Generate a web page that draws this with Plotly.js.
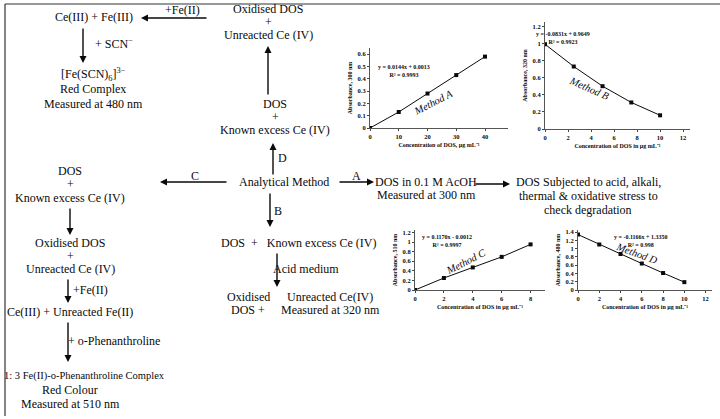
<!DOCTYPE html>
<html><head><meta charset="utf-8">
<script src="https://cdn.plot.ly/plotly-3.0.1.min.js"></script>
<style>html,body{margin:0;padding:0;background:#fff}#chart{width:720px;height:419px}</style>
</head><body><div id="chart"></div>
<script>
// ---- chart data ----
const methodA_conc = [0, 10, 20, 30, 40];
const methodA_abs  = [0.00, 0.13, 0.28, 0.43, 0.58];
const methodB_conc = [0, 2.5, 5, 7.5, 10];
const methodB_abs  = [0.99, 0.73, 0.50, 0.31, 0.16];
const methodC_conc = [0, 2, 4, 6, 8];
const methodC_abs  = [0.00, 0.25, 0.47, 0.69, 0.95];
const methodD_conc = [0, 2, 4, 6, 8, 10];
const methodD_abs  = [1.34, 1.10, 0.87, 0.64, 0.41, 0.19];

const ticksA_x = [0, 10, 20, 30, 40];
const ticksA_y = [0, 0.1, 0.2, 0.3, 0.4, 0.5, 0.6];
const ticksB_x = [0, 2, 4, 6, 8, 10, 12];
const ticksB_y = [0, 0.2, 0.4, 0.6, 0.8, 1, 1.2];
const ticksC_x = [0, 2, 4, 6, 8];
const ticksC_y = [0, 0.2, 0.4, 0.6, 0.8, 1, 1.2];
const ticksD_x = [0, 2, 4, 6, 8, 10, 12];
const ticksD_y = [0, 0.2, 0.4, 0.6, 0.8, 1, 1.2, 1.4];

const equations = ["y = 0.0144x + 0.0013<br>R² = 0.9993", "y = -0.0831x + 0.9649<br>R² = 0.9923",
                   "y = 0.1170x - 0.0012<br>R² = 0.9997", "y = -0.1166x + 1.3350<br>R² = 0.998"];
const methodNames = ["Method A", "Method B", "Method C", "Method D"];

// ---- layout helpers ----
const W = 720, H = 419;
const px = x => x / W, py = y => 1 - y / H;
const SERIF = "Liberation Serif, Times New Roman, serif";
const INK = "#0a0a0a";

function trace(xs, ys, n) {
  return {x: xs, y: ys, xaxis: 'x' + (n > 1 ? n : ''), yaxis: 'y' + (n > 1 ? n : ''),
    mode: 'lines+markers', line: {color: INK, width: 1},
    marker: {symbol: 'square', size: 4, color: INK}, showlegend: false, hoverinfo: 'skip'};
}
function axis(domain, range, ticks, title, anchor) {
  return {domain: domain, range: range, tickvals: ticks, ticktext: ticks.map(String), anchor: anchor,
    showline: true, linecolor: '#555', linewidth: 1, showgrid: false, zeroline: false,
    ticks: 'outside', ticklen: 2, tickwidth: 1, tickcolor: '#444',
    tickfont: {family: SERIF, size: 6.5, color: INK, weight: 'bold'},
    title: {text: title, font: {family: SERIF, size: 6, color: INK, weight: 'bold'}, standoff: 4},
    fixedrange: true};
}

const data = [
  trace(methodA_conc, methodA_abs, 1),
  trace(methodB_conc, methodB_abs, 2),
  trace(methodC_conc, methodC_abs, 3),
  trace(methodD_conc, methodD_abs, 4)
];

const layout = {
  width: W, height: H, margin: {l: 0, r: 0, t: 0, b: 0},
  paper_bgcolor: '#fff', plot_bgcolor: 'rgba(0,0,0,0)',
  xaxis:  axis([px(370), px(508)], [0, 48], ticksA_x, 'Concentration of DOS, µg mL⁻¹', 'y'),
  yaxis:  axis([py(128), py(48)], [0, 0.65], ticksA_y, 'Absorbance, 300 nm', 'x'),
  xaxis2: axis([px(545), px(690)], [0, 12.6], ticksB_x, 'Concentration of DOS in µg mL⁻¹', 'y2'),
  yaxis2: axis([py(129), py(22)], [0, 1.25], ticksB_y, 'Absorbance, 320 nm', 'x2'),
  xaxis3: axis([px(415), px(545)], [0, 9], ticksC_x, 'Concentration of DOS in µg mL⁻¹', 'y3'),
  yaxis3: axis([py(290), py(230)], [0, 1.25], ticksC_y, 'Absorbance, 510 nm', 'x3'),
  xaxis4: axis([px(578), px(712)], [0, 12.6], ticksD_x, 'Concentration of DOS in µg mL⁻¹', 'y4'),
  yaxis4: axis([py(290), py(230)], [0, 1.45], ticksD_y, 'Absorbance, 480 nm', 'x4'),
  annotations: [], shapes: []
};

// chart labels: equations and method names
const eqPos = [[404, 62], [592, 29], [447, 241], [670, 241]];
const mPos = [[433, 85, -27], [614, 72, 24], [466, 261, -27], [662, 253, 20]];
equations.forEach((t, i) => layout.annotations.push({xref: 'paper', yref: 'paper', x: px(eqPos[i][0]), y: py(eqPos[i][1]),
  text: t, showarrow: false, font: {family: SERIF, size: 6, color: INK, weight: 'bold'}, align: 'center'}));
methodNames.forEach((t, i) => layout.annotations.push({xref: 'paper', yref: 'paper', x: px(mPos[i][0]), y: py(mPos[i][1]),
  text: '<i>' + t + '</i>', textangle: mPos[i][2], showarrow: false, font: {family: SERIF, size: 10.5, color: INK}}));

// flowchart text
const FS = 12;
function txt(t, x, y, size, anchor) {
  layout.annotations.push({xref: 'paper', yref: 'paper', x: px(x), y: py(y), text: t, showarrow: false,
    xanchor: anchor || 'center', yanchor: 'middle', borderpad: 0,
    font: {family: SERIF, size: size || FS, color: INK}});
}
function arrow(x1, y1, x2, y2) { // tail (x1,y1) -> head (x2,y2), pixel coords
  layout.annotations.push({xref: 'paper', yref: 'paper', x: px(x2), y: py(y2), ax: x1 - x2, ay: y1 - y2,
    axref: 'pixel', ayref: 'pixel', text: '', showarrow: true, arrowhead: 2, arrowsize: 1, arrowwidth: 1.4, arrowcolor: INK});
}

// top-left branch (D)
txt('Ce(III) + Fe(III)', 94, 17);
txt('+Fe(II)', 182, 10);
arrow(208, 18, 141, 18);
txt('Oxidised DOS', 268, 9);
txt('+', 268, 22);
txt('Unreacted Ce (IV)', 268, 35);
arrow(83, 27, 83, 63);
txt('+ SCN<sup>−</sup>', 114, 44);
txt('[Fe(SCN)<sub>6</sub>]<sup>3−</sup>', 93, 74);
txt('Red Complex', 93, 89);
txt('Measured at 480 nm', 93, 104);
arrow(268, 96, 268, 46);
txt('DOS', 275, 104);
txt('+', 275, 117);
txt('Known excess Ce (IV)', 275, 130);
arrow(273, 176, 273, 143);
txt('D', 282, 158);

// centre
txt('Analytical Method', 284, 182);
arrow(228, 182, 160, 182);
txt('C', 195, 176);
arrow(338, 182, 374, 182);
txt('A', 356, 176);
txt('DOS in 0.1 M AcOH', 426, 182);
txt('Measured at 300 nm', 426, 195);
arrow(474, 184, 510, 184);
txt('DOS Subjected to acid, alkali,', 588, 182);
txt('thermal &amp; oxidative stress to', 588, 196);
txt('check degradation', 588, 210);

// B branch
arrow(270, 192, 270, 227);
txt('B', 278, 211);
txt('DOS  +   Known excess Ce (IV)', 298, 243);
arrow(277, 252, 277, 287);
txt('Acid medium', 306, 269);
txt('Oxidised', 248, 297);
txt('DOS +', 248, 310);
txt('Unreacted Ce(IV)', 330, 297);
txt('Measured at 320 nm', 330, 310);

// C branch (left column)
txt('DOS', 70, 171);
txt('+', 70, 184);
txt('Known excess Ce (IV)', 70, 198);
arrow(70, 207, 70, 235);
txt('Oxidised DOS', 70, 243);
txt('+', 70, 256);
txt('Unreacted Ce (IV)', 70, 269);
arrow(68, 278, 68, 303);
txt('+Fe(II)', 90, 290);
txt('Ce(III) + Unreacted Fe(II)', 70, 312);
arrow(68, 321, 68, 362);
txt('+ o-Phenanthroline', 114, 341);
txt('1: 3 Fe(II)-o-Phenanthroline Complex', 3, 376, 10.5, 'left');
txt('Red Colour', 70, 390);
txt('Measured at 510 nm', 70, 404);

// frame
layout.shapes.push({type: 'line', xref: 'paper', yref: 'paper', x0: px(5), x1: 1, y0: py(4), y1: py(4), line: {color: '#333', width: 1.2}});
layout.shapes.push({type: 'line', xref: 'paper', yref: 'paper', x0: px(5), x1: px(5), y0: py(4), y1: py(416), line: {color: '#333', width: 1.2}});

Plotly.newPlot('chart', data, layout, {staticPlot: true, displayModeBar: false});
</script></body></html>
